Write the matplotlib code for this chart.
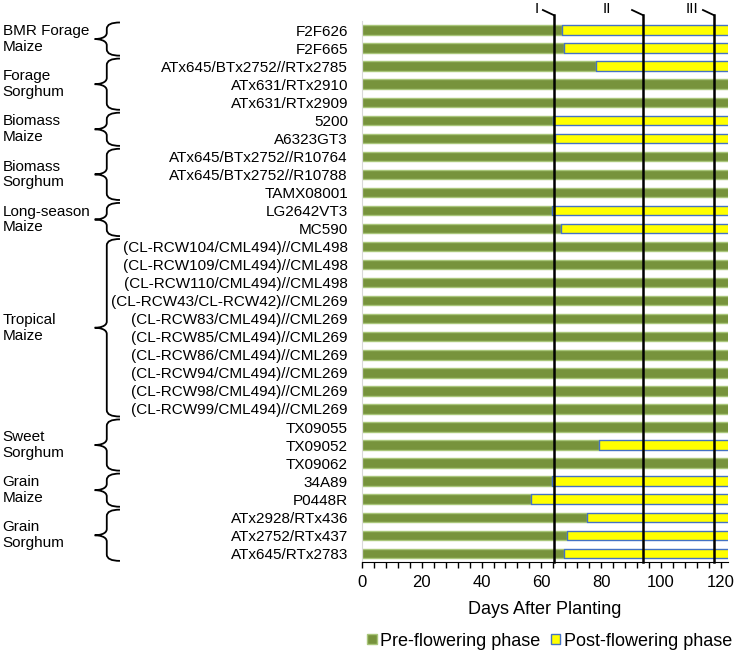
import matplotlib.pyplot as plt
import numpy as np
from matplotlib.path import Path
from matplotlib.patches import PathPatch
from matplotlib.ticker import MultipleLocator

plt.rcParams['font.family'] = ['Liberation Sans', 'DejaVu Sans']

hybrids = ['F2F626', 'F2F665', 'ATx645/BTx2752//RTx2785', 'ATx631/RTx2910',
           'ATx631/RTx2909', '5200', 'A6323GT3', 'ATx645/BTx2752//R10764',
           'ATx645/BTx2752//R10788', 'TAMX08001', 'LG2642VT3', 'MC590',
           '(CL-RCW104/CML494)//CML498', '(CL-RCW109/CML494)//CML498',
           '(CL-RCW110/CML494)//CML498', '(CL-RCW43/CL-RCW42)//CML269',
           '(CL-RCW83/CML494)//CML269', '(CL-RCW85/CML494)//CML269',
           '(CL-RCW86/CML494)//CML269', '(CL-RCW94/CML494)//CML269',
           '(CL-RCW98/CML494)//CML269', '(CL-RCW99/CML494)//CML269',
           'TX09055', 'TX09052', 'TX09062', '34A89', 'P0448R',
           'ATx2928/RTx436', 'ATx2752/RTx437', 'ATx645/RTx2783']

season_end = 125
# days to flowering; hybrids that never flowered carry the season length
pre_flowering = [66.8, 67.7, 78.4, 125, 125, 63.8, 64.7, 125, 125, 125,
                 63.7, 66.7, 125, 125, 125, 125, 125, 125, 125, 125, 125, 125,
                 125, 79.4, 125, 63.7, 56.6, 75.3, 68.7, 67.7]
post_flowering = [season_end - d for d in pre_flowering]

groups = ['BMR Forage\nMaize', 'Forage\nSorghum', 'Biomass\nMaize',
          'Biomass\nSorghum', 'Long-season\nMaize', 'Tropical\nMaize',
          'Sweet\nSorghum', 'Grain\nMaize', 'Grain\nSorghum']
group_first = [0, 2, 5, 7, 10, 12, 22, 25, 27]
group_last = [1, 4, 6, 9, 11, 21, 24, 26, 29]

harvests = ['I', 'II', 'III']
harvest_day = [64.1, 93.9, 117.6]
harvest_label_x = [58.5, 81.8, 110.5]

fig = plt.figure(figsize=(7.37, 6.57), dpi=100, facecolor='white')
ax = fig.add_axes([0.491, 0.1441, 0.4973, 0.8239])

y = np.arange(len(hybrids))
ax.barh(y, pre_flowering, height=0.52, color='#77933c', edgecolor='#a9c67a',
        linewidth=1, label='Pre-flowering phase')
ax.barh(y, post_flowering, left=pre_flowering, height=0.52, color='#ffff00',
        edgecolor='#4472c4', linewidth=1, label='Post-flowering phase')

ax.set_xlim(0, 122.5)
ax.set_ylim(len(hybrids) - 0.5, -0.5)
ax.set_yticks(y)
ax.set_yticklabels(hybrids, fontsize=11)
ax.tick_params(axis='y', length=0, pad=10)
ax.xaxis.set_major_locator(MultipleLocator(20))
ax.xaxis.set_minor_locator(MultipleLocator(4))
ax.tick_params(axis='x', which='both', direction='out', length=4, width=1,
               labelsize=12, pad=5)
ax.set_xlabel('Days After Planting', fontsize=13, labelpad=8)

ax.spines['top'].set_visible(False)
ax.spines['right'].set_visible(False)
ax.spines['left'].set_color('#d9d9d9')
ax.spines['bottom'].set_color('black')

# harvest lines
top = -0.83
for name, d, lx in zip(harvests, harvest_day, harvest_label_x):
    ax.plot([d, d], [len(hybrids) - 0.5, top], color='black', linewidth=1.8,
            clip_on=False, zorder=5)
    ax.plot([d - 3.6, d], [top - 0.28, top], color='black', linewidth=1.3,
            clip_on=False, zorder=5)
    ax.text(lx, top - 0.33, name, fontsize=11, ha='center', va='center')

# group braces and names
tr = ax.get_yaxis_transform()
x_tip, x_bar, x_end = -0.729, -0.696, -0.660
for name, g0, g1 in zip(groups, group_first, group_last):
    y0 = g0 - 0.42
    y1 = g1 + 0.42
    ym = (y0 + y1) / 2
    r = 0.35
    verts = [(x_end, y0), (x_bar, y0), (x_bar, y0 + r),
             (x_bar, ym - r),
             (x_bar, ym - 0.05), (x_tip + 0.01, ym), (x_tip, ym),
             (x_tip + 0.01, ym), (x_bar, ym + 0.05), (x_bar, ym + r),
             (x_bar, y1 - r),
             (x_bar, y1), (x_end, y1)]
    codes = [Path.MOVETO, Path.CURVE3, Path.CURVE3,
             Path.LINETO,
             Path.CURVE4, Path.CURVE4, Path.CURVE4,
             Path.CURVE4, Path.CURVE4, Path.CURVE4,
             Path.LINETO,
             Path.CURVE3, Path.CURVE3]
    ax.add_patch(PathPatch(Path(verts, codes), transform=tr, fill=False,
                           edgecolor='black', linewidth=1.3, clip_on=False))
    ax.text(-0.980, ym, name, transform=tr, fontsize=11, ha='left',
            va='center', linespacing=1.15)

fig.legend(loc='center', bbox_to_anchor=(0.746, 0.024), ncol=2, frameon=False,
           fontsize=13, handlelength=0.5, handleheight=0.5, handletextpad=0.2,
           columnspacing=0.6)

fig.savefig('out.png', dpi=100, facecolor='white')
